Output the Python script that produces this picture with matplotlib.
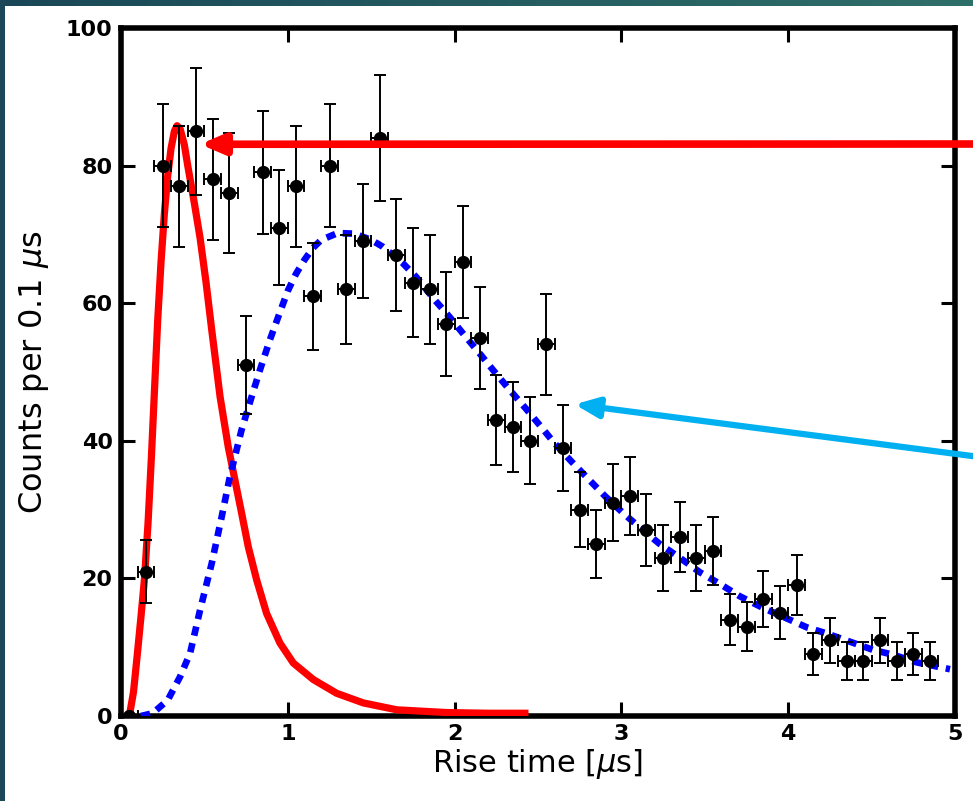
import numpy as np
import matplotlib
matplotlib.use("Agg")
import matplotlib.pyplot as plt
from matplotlib.patches import FancyArrowPatch
from matplotlib.colors import LinearSegmentedColormap

# ---------------- data ----------------
rise_time = [0.05, 0.15, 0.25, 0.35, 0.45, 0.55, 0.65, 0.75, 0.85, 0.95,
             1.05, 1.15, 1.25, 1.35, 1.45, 1.55, 1.65, 1.75, 1.85, 1.95,
             2.05, 2.15, 2.25, 2.35, 2.45, 2.55, 2.65, 2.75, 2.85, 2.95,
             3.05, 3.15, 3.25, 3.35, 3.45, 3.55, 3.65, 3.75, 3.85, 3.95,
             4.05, 4.15, 4.25, 4.35, 4.45, 4.55, 4.65, 4.75, 4.85]
counts = [0, 21, 80, 77, 85, 78, 76, 51, 79, 71,
          77, 61, 80, 62, 69, 84, 67, 63, 62, 57,
          66, 55, 43, 42, 40, 54, 39, 30, 25, 31,
          32, 27, 23, 26, 23, 24, 14, 13, 17, 15,
          19, 9, 11, 8, 8, 11, 8, 9, 8]
count_err = np.sqrt(counts)          # Poisson errors
bin_half_width = 0.05

# red (fast component) curve
red_x = [0.05, 0.075, 0.098, 0.12, 0.141, 0.162, 0.182, 0.202, 0.22, 0.24,
         0.26, 0.28, 0.30, 0.32, 0.336, 0.355, 0.38, 0.40, 0.44, 0.474,
         0.51, 0.544, 0.594, 0.643, 0.683, 0.723, 0.763, 0.813, 0.873, 0.953,
         1.033, 1.153, 1.293, 1.453, 1.653, 1.953, 2.20, 2.443]
red_y = [0.0, 3.5, 9.0, 14.5, 20.0, 28.0, 37.5, 48.0, 57.5, 66.0,
         73.0, 78.5, 82.5, 85.0, 85.8, 85.3, 83.0, 80.0, 74.5, 69.5,
         63.0, 56.1, 46.4, 39.1, 34.3, 29.5, 24.6, 19.8, 14.9, 10.6,
         7.7, 5.3, 3.3, 1.9, 0.9, 0.5, 0.4, 0.4]

# blue dotted (slow component) curve
blue_x = [0.12, 0.19, 0.28, 0.354, 0.414, 0.474, 0.544, 0.604, 0.653, 0.723,
          0.783, 0.833, 0.893, 0.95, 1.00, 1.05, 1.10, 1.15, 1.20, 1.30,
          1.40, 1.50, 1.57, 1.69, 1.77, 1.88, 1.97, 2.05, 2.15, 2.23,
          2.33, 2.43, 2.53, 2.59, 2.70, 2.80, 2.90, 3.01, 3.11, 3.23,
          3.35, 3.47, 3.59, 3.71, 3.85, 3.99, 4.11, 4.23, 4.37, 4.51,
          4.63, 4.77, 4.97]
blue_y = [0.0, 0.4, 2.3, 5.7, 9.1, 15.4, 22.2, 29.0, 34.8, 41.6,
          46.4, 50.3, 54.7, 58.5, 61.8, 64.3, 66.3, 68.0, 69.2, 70.2,
          70.1, 69.2, 68.2, 65.8, 63.8, 60.5, 58.0, 55.6, 52.7, 50.3,
          47.4, 44.6, 41.7, 39.9, 37.0, 34.5, 32.0, 29.5, 27.4, 25.0,
          23.0, 20.9, 19.2, 17.4, 15.7, 14.2, 12.9, 12.0, 10.8, 9.6,
          8.9, 7.8, 6.8]

x_ticks = [0, 1, 2, 3, 4, 5]
y_ticks = [0, 20, 40, 60, 80, 100]

# arrow tips (data coords)
red_tip = (0.474, 83.1)
cyan_tip = (2.72, 45.3)

# ---------------- figure ----------------
W, H = 973, 801
fig = plt.figure(figsize=(W / 100, H / 100), dpi=100, facecolor="white")

# decorative slide border: top gradient strip and left strip
top = fig.add_axes([0, 1 - 6 / H, 1, 6 / H])
grad = np.linspace(0, 1, 256)[None, :]
cm = LinearSegmentedColormap.from_list("teal", ["#1a4757", "#2f6f69"])
top.imshow(grad, aspect="auto", cmap=cm)
top.axis("off")
left = fig.add_axes([0, 0, 5 / W, 1])
left.set_facecolor("#1b4858")
left.set_xticks([]); left.set_yticks([])
for s in left.spines.values():
    s.set_visible(False)

ax = fig.add_axes([121 / W, 1 - 716 / H, (955 - 121) / W, (716 - 28) / H])

ax.plot(red_x, red_y, color="#ff0000", lw=5.2, solid_capstyle="butt",
        solid_joinstyle="round", zorder=3)
ax.plot(blue_x, blue_y, color="#0000ff", lw=4.8, dashes=(1.4, 1.15),
        dash_capstyle="butt", zorder=3)

ax.errorbar(rise_time, counts, yerr=count_err, xerr=bin_half_width,
            fmt="o", color="black", ms=8.5, elinewidth=1.4, capsize=4,
            capthick=1.4, zorder=5)

ax.set_xlim(0, 5)
ax.set_ylim(0, 100)
ax.set_xticks(x_ticks)
ax.set_yticks(y_ticks)
ax.tick_params(direction="in", length=10, width=2.2, top=True, right=True,
               labelsize=16, pad=6)
for lab in ax.get_xticklabels() + ax.get_yticklabels():
    lab.set_fontweight("bold")
for s in ax.spines.values():
    s.set_linewidth(4)

ax.set_xlabel(r"Rise time [$\mu$s]", fontsize=22, labelpad=2)
ax.set_ylabel(r"Counts per 0.1 $\mu$s", fontsize=23, labelpad=11)

# arrows from outside the plot
def add_arrow(tip, tail_px, color, lw):
    arr = FancyArrowPatch(
        posA=tail_px, posB=ax.transData.transform(tip),
        transform=None,
        arrowstyle="-|>,head_length=14,head_width=6",
        mutation_scale=1, color=color, lw=lw, shrinkA=0, shrinkB=0,
        zorder=4)
    fig.patches.append(arr)

fig.canvas.draw()
add_arrow(red_tip, (995, H - 144), "#ff0000", 5.5)
add_arrow(cyan_tip, (995, H - 459), "#00b0f0", 4.5)

fig.savefig("out.png", dpi=100, facecolor=fig.get_facecolor())
